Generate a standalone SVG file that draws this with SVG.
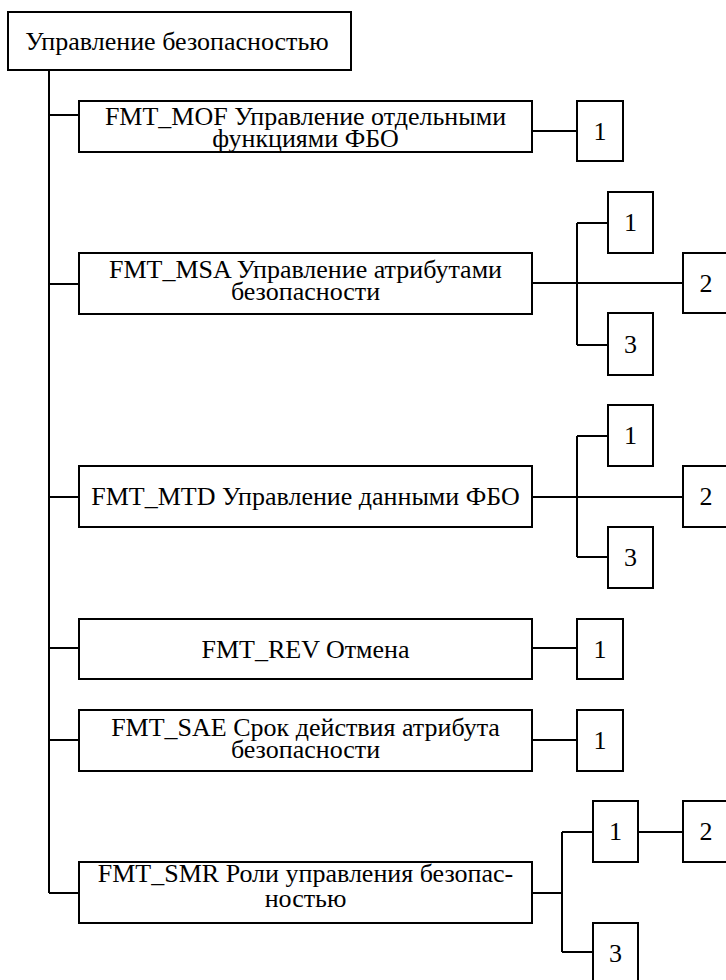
<svg xmlns="http://www.w3.org/2000/svg" width="726" height="980" viewBox="0 0 726 980">
<style>
rect{fill:#fff;stroke:#000;stroke-width:2}
.c path{fill:none;stroke:#000;stroke-width:2}
text{font-family:'Liberation Serif',Tinos,'Times New Roman','DejaVu Serif',serif;font-size:26px;fill:#000;text-anchor:middle}
</style>
<rect x="0" y="0" width="726" height="980" style="stroke:none"/>
<g class="c" id="connectors">
<path d="M49 71V893"/>
<path d="M49 115H79M49 284H79M49 497H79M49 648H79M49 740H79M49 893H79"/>
<path d="M532 131H577"/>
<path d="M532 283H683M577 223V345M577 223H608M577 345H608"/>
<path d="M532 497H683M577 436V557M577 436H608M577 557H608"/>
<path d="M532 648H577"/>
<path d="M532 740H577"/>
<path d="M532 893H562M562 832V952M562 832H593M562 952H593M638 832H683"/>
</g>
<g font-family="'Liberation Serif', Tinos, 'Times New Roman', 'DejaVu Serif', serif">
<g id="root"><rect x="8" y="12" width="343" height="58"/><text x="177" y="50">Управление безопасностью</text></g>
<g id="mof"><rect x="79" y="101" width="453" height="51"/><text x="305.5" y="125">FMT_MOF Управление отдельными</text><text x="305.5" y="147">функциями ФБО</text></g>
<g id="mof1"><rect x="577" y="101" width="46" height="60"/><text x="600" y="140">1</text></g>
<g id="msa"><rect x="79" y="253" width="453" height="61"/><text x="305.5" y="278">FMT_MSA Управление атрибутами</text><text x="305.5" y="300">безопасности</text></g>
<g id="msa1"><rect x="608" y="192" width="45" height="61"/><text x="630.5" y="231">1</text></g>
<g id="msa2"><rect x="683" y="253" width="46" height="60"/><text x="706" y="292">2</text></g>
<g id="msa3"><rect x="608" y="313" width="45" height="62"/><text x="630.5" y="353">3</text></g>
<g id="mtd"><rect x="79" y="466" width="453" height="61"/><text x="305.5" y="505">FMT_MTD Управление данными ФБО</text></g>
<g id="mtd1"><rect x="608" y="405" width="45" height="61"/><text x="630.5" y="444">1</text></g>
<g id="mtd2"><rect x="683" y="466" width="46" height="61"/><text x="706" y="505">2</text></g>
<g id="mtd3"><rect x="608" y="527" width="45" height="61"/><text x="630.5" y="566">3</text></g>
<g id="rev"><rect x="79" y="619" width="453" height="60"/><text x="305.5" y="658">FMT_REV Отмена</text></g>
<g id="rev1"><rect x="577" y="619" width="46" height="60"/><text x="600" y="658">1</text></g>
<g id="sae"><rect x="79" y="710" width="453" height="61"/><text x="305.5" y="736">FMT_SAE Срок действия атрибута</text><text x="305.5" y="758">безопасности</text></g>
<g id="sae1"><rect x="577" y="710" width="46" height="61"/><text x="600" y="749">1</text></g>
<g id="smr"><rect x="79" y="862" width="453" height="61"/><text x="305.5" y="882">FMT_SMR Роли управления безопас-</text><text x="305.5" y="907">ностью</text></g>
<g id="smr1"><rect x="593" y="801" width="45" height="61"/><text x="615.5" y="840">1</text></g>
<g id="smr2"><rect x="683" y="801" width="46" height="61"/><text x="706" y="840">2</text></g>
<g id="smr3"><rect x="593" y="923" width="45" height="62"/><text x="615.5" y="962">3</text></g>
</g>
</svg>
